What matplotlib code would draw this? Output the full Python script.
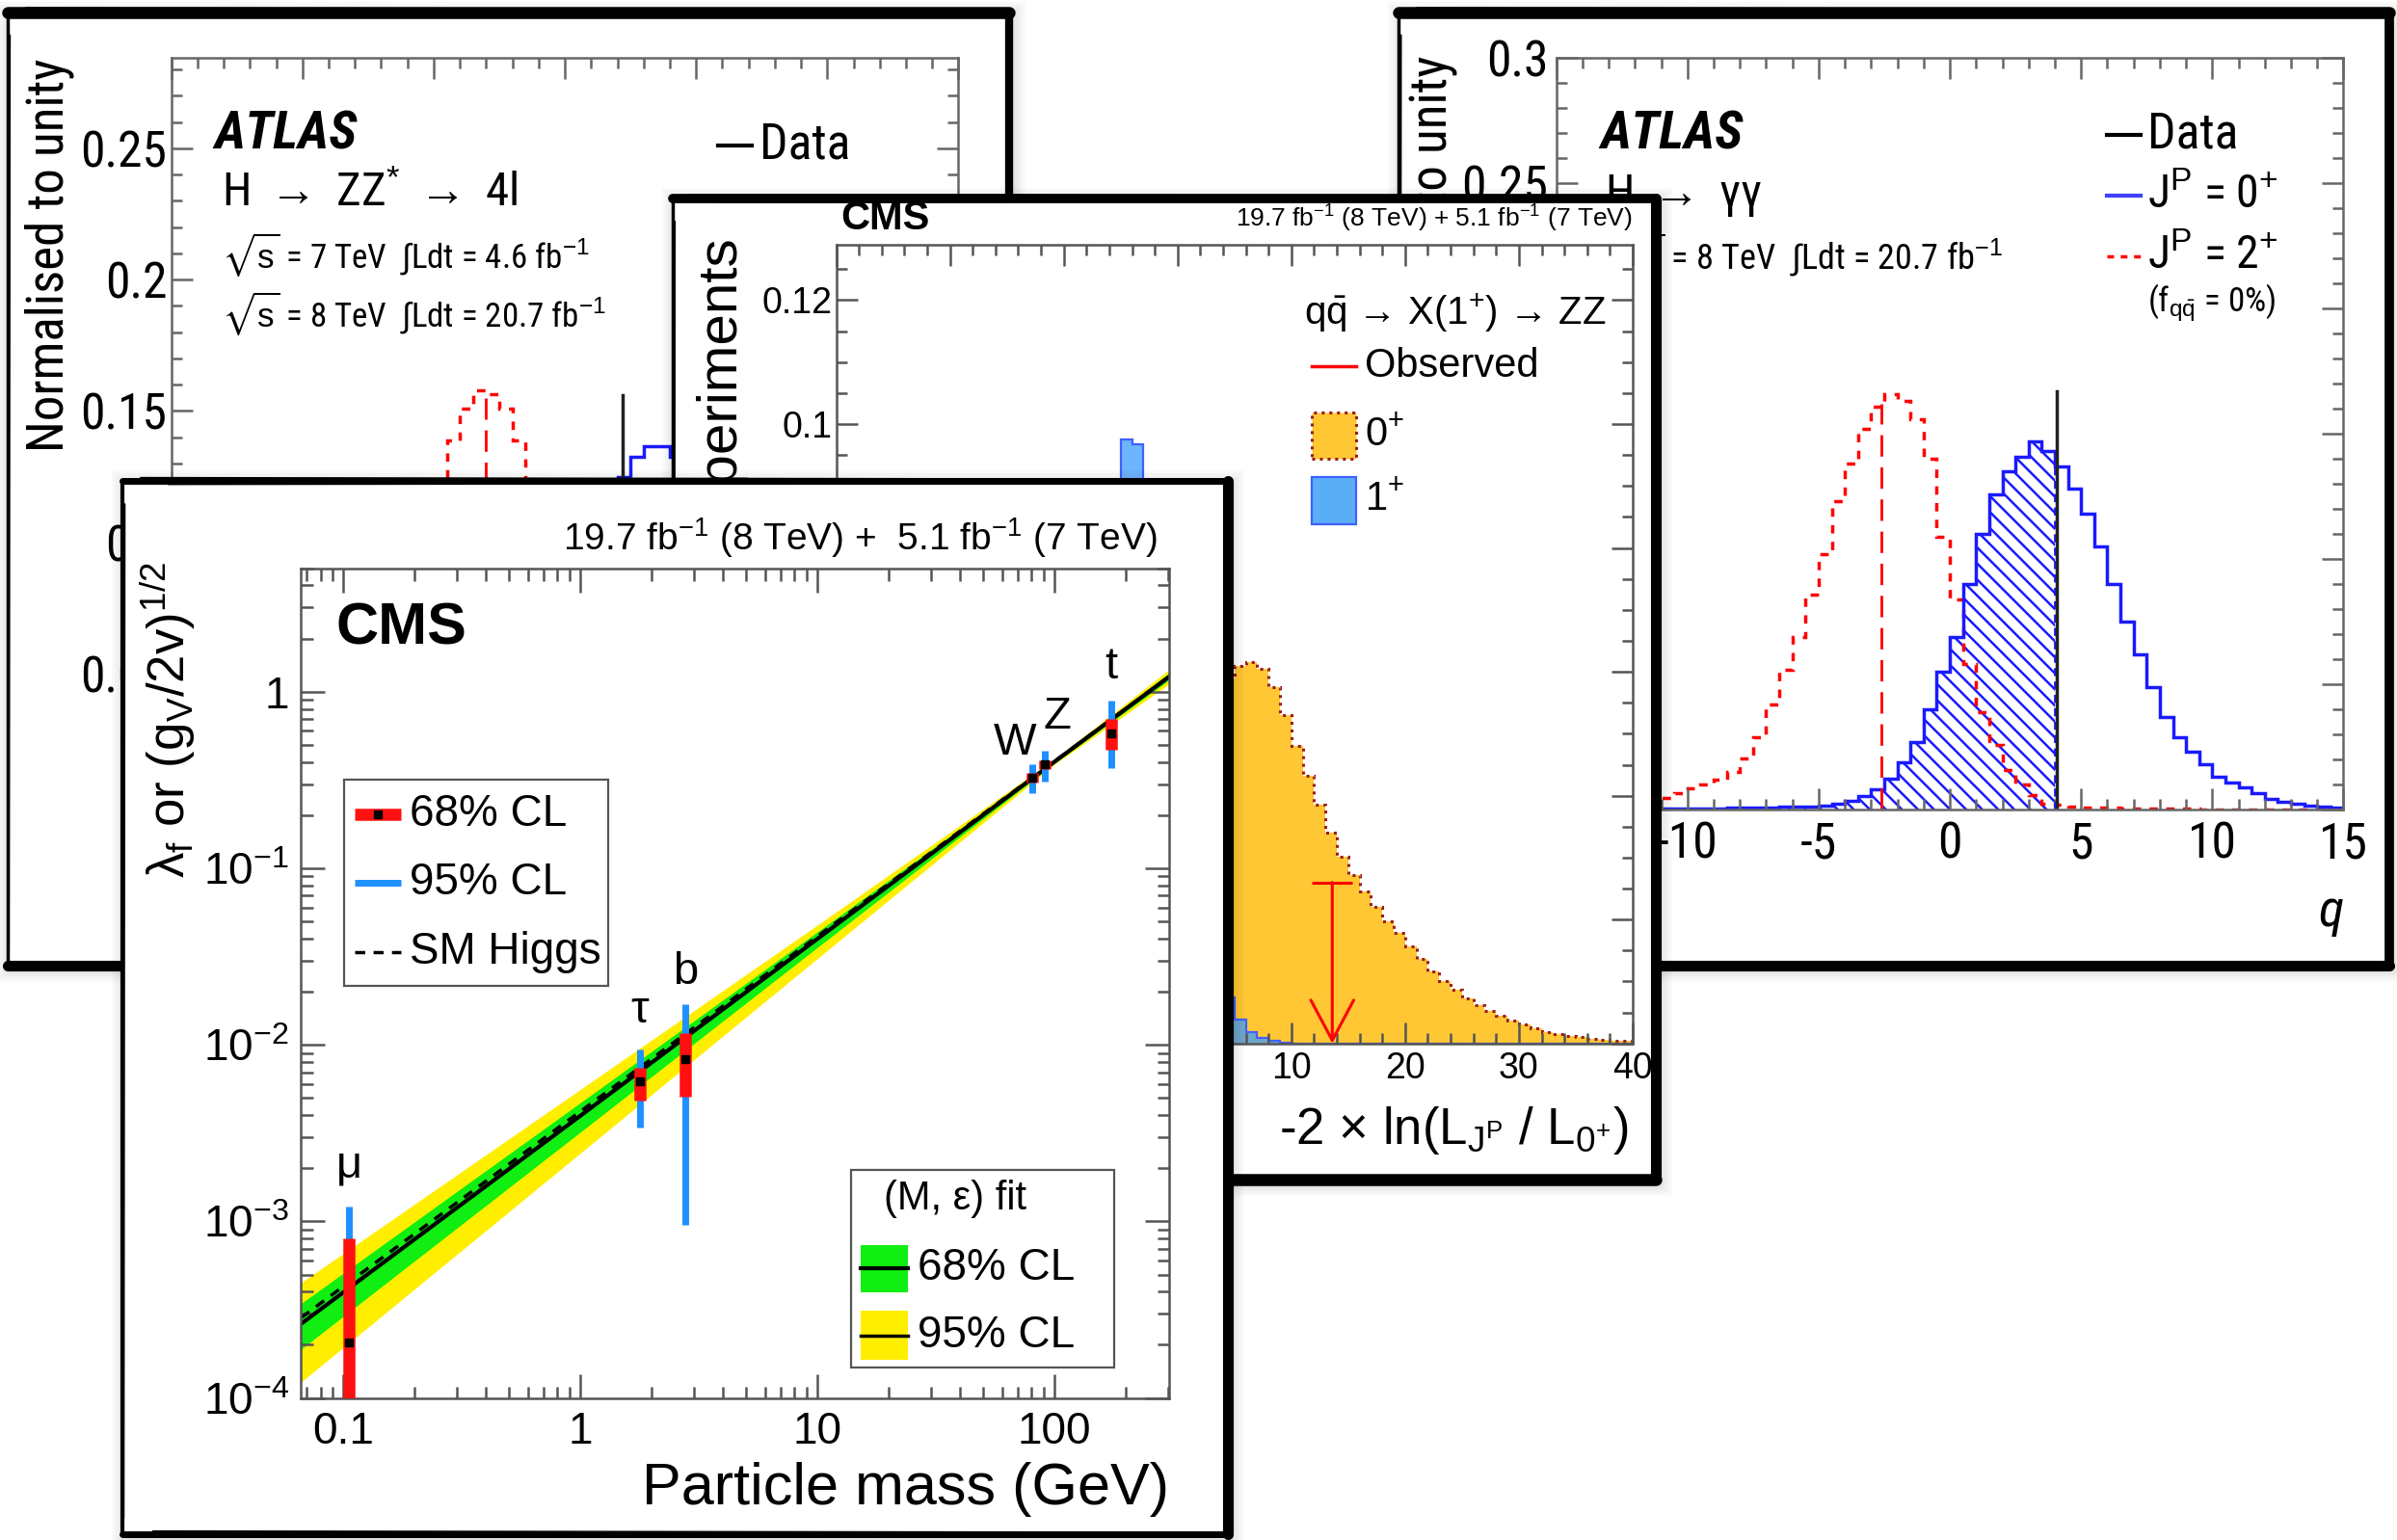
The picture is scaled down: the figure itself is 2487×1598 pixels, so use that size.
import numpy as np
import matplotlib
matplotlib.use("Agg")
import matplotlib.pyplot as plt
import matplotlib.transforms as mtransforms
from matplotlib.patches import Rectangle
from matplotlib.ticker import MultipleLocator, NullFormatter, LogLocator
from matplotlib import font_manager

# ======================= DATA =======================
# --- ATLAS H->ZZ*->4l : distribution of q (bins of width 0.5) ---
zz_q_edges = np.arange(-15, 15.01, 0.5)
zz_spin2 = [0, 0, 0, 0, 0, 0.0001, 0.0003, 0.0005, 0.0011, 0.0020,
            0.0035, 0.0061, 0.0100, 0.0159, 0.0241, 0.0351, 0.0489, 0.0656, 0.0841, 0.1036,
            0.1224, 0.1387, 0.1508, 0.1580, 0.1565, 0.1508, 0.1387, 0.1224, 0.1036, 0.0841,
            0.0656, 0.0489, 0.0351, 0.0241, 0.0159, 0.0100, 0.0061, 0.0035, 0.0020, 0.0011,
            0.0005, 0.0003, 0.0001, 0, 0, 0, 0, 0, 0, 0,
            0, 0, 0, 0, 0, 0, 0, 0, 0, 0]
zz_spin0 = [0, 0, 0, 0, 0, 0, 0, 0, 0, 0,
            0, 0, 0, 0, 0.0001, 0.0001, 0.0003, 0.0005, 0.0008, 0.0014,
            0.0024, 0.0038, 0.0060, 0.0091, 0.0134, 0.0191, 0.0266, 0.0359, 0.0469, 0.0595,
            0.0731, 0.0874, 0.1014, 0.1143, 0.1248, 0.1325, 0.1365, 0.1365, 0.1325, 0.1248,
            0.1143, 0.1014, 0.0874, 0.0731, 0.0595, 0.0469, 0.0359, 0.0266, 0.0191, 0.0134,
            0.0091, 0.0060, 0.0038, 0.0024, 0.0014, 0.0008, 0.0005, 0.0003, 0.0001, 0.0001]
zz_q_obs, zz_obs_top = 2.2, 0.156
zz_spin2_median, zz_median_top = -3.0, 0.155
q_xticks = [-15, -10, -5, 0, 5, 10, 15]
q_xticklabels = ['-15', '-10', '-5', '0', '5', '10', '15']
zz_yticks = [0, 0.05, 0.1, 0.15, 0.2, 0.25]
zz_yticklabels = ['0', '0.05', '0.1', '0.15', '0.2', '0.25']

# --- ATLAS H->gamma gamma : distribution of q (bins of width 0.5) ---
gg_q_edges = np.arange(-15, 15.01, 0.5)
gg_spin2 = [0.0002, 0.0003, 0.0005, 0.0008, 0.0012, 0.0018, 0.0025, 0.0033, 0.0046, 0.0065,
            0.0085, 0.0100, 0.0120, 0.0152, 0.0205, 0.0290, 0.0420, 0.0560, 0.0690, 0.0860,
            0.1020, 0.1230, 0.1380, 0.1520, 0.1610, 0.1660, 0.1630, 0.1560, 0.1400, 0.1090,
            0.0840, 0.0580, 0.0390, 0.0260, 0.0160, 0.0100, 0.0058, 0.0025, 0.0020, 0.0012,
            0.0010, 0.0008, 0.0007, 0.0006, 0.0005, 0.0004, 0.0004, 0.0003, 0.0003, 0.0002,
            0.0002, 0.0002, 0.0001, 0.0001, 0.0001, 0.0001, 0.0, 0.0, 0.0, 0.0]
gg_spin0 = [0.0001, 0.0001, 0.0001, 0.0002, 0.0002, 0.0002, 0.0003, 0.0003, 0.0004, 0.0004,
            0.0005, 0.0005, 0.0006, 0.0007, 0.0008, 0.0009, 0.0010, 0.0011, 0.0012, 0.0013,
            0.0016, 0.0023, 0.0035, 0.0055, 0.0080, 0.0125, 0.0190, 0.0270, 0.0400, 0.0550,
            0.0690, 0.0900, 0.1100, 0.1260, 0.1350, 0.1410, 0.1470, 0.1430, 0.1370, 0.1280,
            0.1180, 0.1050, 0.0900, 0.0750, 0.0620, 0.0490, 0.0370, 0.0290, 0.0230, 0.0180,
            0.0130, 0.0110, 0.0090, 0.0065, 0.0045, 0.0033, 0.0024, 0.0017, 0.0012, 0.0007]
gg_q_obs, gg_obs_top = 4.08, 0.167
gg_spin2_median, gg_median_top = -2.62, 0.162
gg_yticks = [0, 0.05, 0.1, 0.15, 0.2, 0.25, 0.3]
gg_yticklabels = ['0', '0.05', '0.1', '0.15', '0.2', '0.25', '0.3']

# --- CMS q qbar -> X(1+) -> ZZ : test statistic (bins of width 1) ---
cms_q_edges = np.arange(-30, 41, 1)
cms_0plus = [0, 0, 0, 0, 0, 0, 0, 0, 0, 0,
             0, 0, 0, 0, 0, 0.0001, 0.0002, 0.0003, 0.0005, 0.0008,
             0.0013, 0.0020, 0.0030, 0.0045, 0.0065, 0.0090, 0.0120, 0.0160, 0.0205, 0.0255,
             0.0315, 0.0380, 0.0450, 0.0530, 0.0590, 0.0610, 0.0615, 0.0605, 0.0575, 0.0530,
             0.0480, 0.0432, 0.0385, 0.0340, 0.0302, 0.0272, 0.0245, 0.0220, 0.0198, 0.0178,
             0.0157, 0.0137, 0.0117, 0.0100, 0.0086, 0.0073, 0.0062, 0.0052, 0.0044, 0.0037,
             0.0030, 0.0024, 0.0019, 0.0015, 0.0012, 0.0010, 0.0008, 0.0006, 0.0005, 0.0004]
cms_1plus = [0, 0, 0, 0, 0, 0, 0, 0, 0, 0,
             0, 0, 0.0001, 0.0004, 0.0009, 0.0019, 0.0039, 0.0074, 0.0131, 0.0217,
             0.0333, 0.0475, 0.0633, 0.0784, 0.0905, 0.0975, 0.0968, 0.0905, 0.0784, 0.0633,
             0.0475, 0.0333, 0.0217, 0.0131, 0.0074, 0.0039, 0.0019, 0.0009, 0.0004, 0.0001,
             0, 0, 0, 0, 0, 0, 0, 0, 0, 0,
             0, 0, 0, 0, 0, 0, 0, 0, 0, 0,
             0, 0, 0, 0, 0, 0, 0, 0, 0, 0]
cms_observed_q, cms_observed_top = 13.6, 0.026
cms_xticks = [-30, -20, -10, 0, 10, 20, 30, 40]
cms_xticklabels = ['-30', '-20', '-10', '0', '10', '20', '30', '40']
cms_yticks = [0, 0.02, 0.04, 0.06, 0.08, 0.1, 0.12]
cms_yticklabels = ['0', '0.02', '0.04', '0.06', '0.08', '0.1', '0.12']

# --- CMS couplings vs particle mass ---
particles = ['μ', 'τ', 'b', 'W', 'Z', 't']
particle_mass = [0.1057, 1.777, 2.76, 80.4, 91.19, 173.2]
coupling_best = [2.06e-4, 6.25e-3, 8.3e-3, 0.324, 0.388, 0.58]
cl68_low = [5e-5, 4.85e-3, 5.08e-3, 0.305, 0.365, 0.47]
cl68_high = [8.0e-4, 7.4e-3, 1.17e-2, 0.345, 0.41, 0.70]
cl95_low = [5e-5, 3.39e-3, 9.5e-4, 0.265, 0.31, 0.37]
cl95_high = [1.22e-3, 9.4e-3, 1.69e-2, 0.388, 0.464, 0.89]
band_mass = [0.0663, 1.0, 10.0, 100.0, 305.0]
fit_central = [2.63e-4, 3.97e-3, 3.99e-2, 0.402, 1.22]
fit68_low = [1.89e-4, 3.21e-3, 3.57e-2, 0.394, 1.17]
fit68_high = [3.43e-4, 4.71e-3, 4.37e-2, 0.409, 1.28]
fit95_low = [1.23e-4, 2.44e-3, 3.09e-2, 0.388, 1.11]
fit95_high = [4.50e-4, 5.60e-3, 4.78e-2, 0.416, 1.34]
sm_mass = [0.0663, 305.0]
sm_coupling = [2.85e-4, 1.22]
mass_xticks = [0.1, 1, 10, 100]
mass_xticklabels = ['0.1', '1', '10', '100']
coupling_yticks = [1e-4, 1e-3, 1e-2, 1e-1, 1]
coupling_yticklabels = [r'$10^{-4}$', r'$10^{-3}$', r'$10^{-2}$', r'$10^{-1}$', '1']

# ======================= FONTS =======================
fam_stretch = {}
for f in font_manager.fontManager.ttflist:
    fam_stretch.setdefault(f.name, set()).add(str(f.stretch))
SANS = 'Liberation Sans' if 'Liberation Sans' in fam_stretch else 'DejaVu Sans'
if 'Liberation Sans Narrow' in fam_stretch:
    NARROW, NSTRETCH, NF = 'Liberation Sans Narrow', 'condensed', 1.0
elif 'Noto Sans Condensed' in fam_stretch:
    NARROW, NSTRETCH, NF = 'Noto Sans Condensed', 'condensed', 0.91
elif 'condensed' in fam_stretch.get('Noto Sans', set()):
    NARROW, NSTRETCH, NF = 'Noto Sans', 'condensed', 0.91
elif 'Roboto Condensed' in fam_stretch:
    NARROW, NSTRETCH, NF = 'Roboto Condensed', 'condensed', 0.93
elif 'condensed' in fam_stretch.get('Roboto', set()):
    NARROW, NSTRETCH, NF = 'Roboto', 'condensed', 0.93
elif 'Open Sans Condensed' in fam_stretch:
    NARROW, NSTRETCH, NF = 'Open Sans Condensed', 'condensed', 0.93
elif 'condensed' in fam_stretch.get('Open Sans', set()):
    NARROW, NSTRETCH, NF = 'Open Sans', 'condensed', 0.93
else:
    NARROW, NSTRETCH, NF = SANS, 'normal', 0.84

plt.rcParams['font.family'] = [SANS, 'DejaVu Sans']
plt.rcParams['mathtext.fontset'] = 'custom'
plt.rcParams['mathtext.rm'] = SANS
plt.rcParams['mathtext.it'] = SANS + ':italic'
plt.rcParams['mathtext.bf'] = SANS + ':bold'
plt.rcParams['mathtext.sf'] = SANS
plt.rcParams['mathtext.fallback'] = 'stixsans'
plt.rcParams['hatch.linewidth'] = 1.8

NK = dict(fontfamily=[NARROW, SANS, 'DejaVu Sans'], fontstretch=NSTRETCH)
SK = dict(fontfamily=[SANS, 'DejaVu Sans'])

W, H = 1568.0, 1008.0
FW, FH = 2487, 1598
fig = plt.figure(figsize=(FW / 100, FH / 100), dpi=100)
fig.patch.set_facecolor('white')
T = mtransforms.Affine2D().scale(1 / W, -1 / H).translate(0, 1) + fig.transFigure


def frect(x0, y0, x1, y1):
    return [x0 / W, 1 - y1 / H, (x1 - x0) / W, (y1 - y0) / H]


def txt(ax, x, y, s, size, ha='left', va='center', **kw):
    return ax.text(x, y, s, transform=T, fontsize=size, ha=ha, va=va,
                   clip_on=False, **kw)


def seg(ax, xs, ys, **kw):
    return ax.plot(xs, ys, transform=T, clip_on=False, **kw)


def panel_bg(x0, y0, x1, y1, z):
    bg = fig.add_axes(frect(x0, y0, x1, y1), zorder=z)
    bg.set_xticks([]); bg.set_yticks([])
    for s in bg.spines.values():
        s.set_visible(False)
    bg.set_facecolor('none')
    for d in [9, 7, 5, 3.5, 2]:
        bg.add_patch(Rectangle((x0 - d + 2, y1 + d + 2), (x1 - x0) + 2 * d, -(y1 - y0) - 2 * d,
                               transform=T, facecolor='black', alpha=0.025, lw=0,
                               clip_on=False, zorder=0))
    bg.add_patch(Rectangle((x0, y1), x1 - x0, -(y1 - y0), transform=T, facecolor='white',
                           lw=0, clip_on=False, zorder=1))
    return bg


def sketch_border(ax, x0, y0, x1, y1, t, r, b, l):
    kw = dict(color='black', solid_capstyle='round', zorder=30)
    if t:
        seg(ax, [x0, x1], [y0, y0], lw=t, **kw)
        seg(ax, [x0 + 12, x1 - 4], [y0 - 2.2, y0 - 1.2], lw=t * 0.3, **kw)
        seg(ax, [x0 + 30, x1 + 1], [y0 + 2.0, y0 + 1.2], lw=t * 0.25, **kw)
    if r:
        seg(ax, [x1, x1], [y0, y1], lw=r, **kw)
        seg(ax, [x1 + 1.8, x1 + 1.0], [y0 + 10, y1 - 6], lw=r * 0.3, **kw)
        seg(ax, [x1 - 1.6, x1 - 1.0], [y0 + 25, y1 + 1], lw=r * 0.25, **kw)
    if b:
        seg(ax, [x0, x1], [y1, y1], lw=b, **kw)
        seg(ax, [x0 + 8, x1 - 3], [y1 + 2.0, y1 + 1.0], lw=b * 0.3, **kw)
        seg(ax, [x0 + 20, x1 + 1], [y1 - 1.8, y1 - 1.0], lw=b * 0.25, **kw)
    if l:
        seg(ax, [x0, x0], [y0, y1], lw=l, **kw)
        seg(ax, [x0 + 1.5, x0 + 0.8], [y0 + 15, y1 - 10], lw=l * 0.5, **kw)


def root_frame(ax, maj, mnr, color='#444444', lw=1.8):
    ax.tick_params(which='both', direction='in', top=True, right=True,
                   color=color, width=lw)
    ax.tick_params(which='major', length=maj)
    ax.tick_params(which='minor', length=mnr)
    for s in ax.spines.values():
        s.set_color(color)
        s.set_linewidth(lw)
    ax.set_facecolor('none')


RECT_A = (5, 8, 660, 632)
RECT_B = (915, 8, 1563, 632)
RECT_C = (440, 130, 1083, 772)
RECT_D = (80, 315, 803, 1004)

# ======================= PANEL A : ATLAS ZZ =======================
bgA = panel_bg(*RECT_A, 1)
axA = fig.add_axes(frect(112, 38, 627, 527), zorder=2)
sketch_border(axA, *RECT_A, 9, 6, 8, 2.5)
axA.stairs(zz_spin2, zz_q_edges, color='red', lw=2.5, linestyle=(0, (2.5, 2.5)))
axA.stairs(zz_spin0, zz_q_edges, color='#1a1aff', lw=2.5)
axA.plot([zz_spin2_median, zz_spin2_median], [0, zz_median_top], color='red',
         lw=2, linestyle=(0, (8, 4)))
axA.plot([zz_q_obs, zz_q_obs], [0, zz_obs_top], color='#222222', lw=2.5)
axA.set_xlim(-15, 15)
axA.set_ylim(0, 0.2843)
root_frame(axA, 16, 8, color='#666666')
axA.set_xticks(q_xticks, q_xticklabels, fontsize=38 * NF, **NK)
axA.set_yticks(zz_yticks, zz_yticklabels, fontsize=40 * NF, **NK)
axA.xaxis.set_minor_locator(MultipleLocator(1))
axA.yaxis.set_minor_locator(MultipleLocator(0.01))
axA.tick_params(axis='y', pad=3)
axA.tick_params(axis='x', pad=8)
txt(axA, 32, 38, 'Normalised to unity', 41 * NF, ha='center', va='top', rotation=90, **NK)
txt(axA, 140, 88, 'ATLAS', 43 * NF, fontweight='bold', fontstyle='italic', **NK)
txt(axA, 145, 127, r'H ${\rightarrow}$ ZZ$^{*}$ ${\rightarrow}$ 4l', 38 * NF, **NK)
txt(axA, 145, 167, r'$\sqrt{\mathrm{s}}$ = 7 TeV  $\int$Ldt = 4.6 fb$^{-1}$', 27 * NF, **NK)
txt(axA, 145, 205, r'$\sqrt{\mathrm{s}}$ = 8 TeV  $\int$Ldt = 20.7 fb$^{-1}$', 27 * NF, **NK)
seg(axA, [470, 492], [95, 95], color='black', lw=3)
txt(axA, 497, 95, 'Data', 40 * NF, **NK)
txt(axA, 627, 600, 'q', 40 * NF, ha='right', fontstyle='italic', **NK)

# ======================= PANEL B : ATLAS gamma gamma =======================
bgB = panel_bg(*RECT_B, 3)
axB = fig.add_axes(frect(1018, 38, 1533, 530), zorder=4)
sketch_border(axB, *RECT_B, 9, 7, 8, 2.5)
n_hatch = int(np.searchsorted(gg_q_edges, gg_q_obs, side='right')) - 1
axB.stairs(gg_spin0[:n_hatch], gg_q_edges[:n_hatch + 1], fill=True, facecolor='none',
           edgecolor='#1a1aff', hatch='\\\\', lw=0)
axB.plot([gg_q_edges[n_hatch], gg_q_edges[n_hatch]], [0, gg_spin0[n_hatch - 1]],
         color='#1a1aff', lw=2, linestyle=(0, (3, 2)))
axB.stairs(gg_spin2, gg_q_edges, color='red', lw=2.5, linestyle=(0, (2.5, 2.5)))
axB.stairs(gg_spin0, gg_q_edges, color='#1a1aff', lw=2.5)
axB.plot([gg_spin2_median, gg_spin2_median], [0, gg_median_top], color='red',
         lw=2, linestyle=(0, (8, 4)))
axB.plot([gg_q_obs, gg_q_obs], [0, gg_obs_top], color='#222222', lw=2.5)
axB.set_xlim(-15, 15)
axB.set_ylim(0, 0.3)
root_frame(axB, 16, 8, color='#666666')
axB.set_xticks(q_xticks, q_xticklabels, fontsize=40 * NF, **NK)
axB.set_yticks(gg_yticks, gg_yticklabels, fontsize=40 * NF, **NK)
axB.xaxis.set_minor_locator(MultipleLocator(1))
axB.yaxis.set_minor_locator(MultipleLocator(0.01))
axB.tick_params(axis='y', pad=6)
axB.tick_params(axis='x', pad=8)
txt(axB, 937, 36, 'Normalised to unity', 41 * NF, ha='center', va='top', rotation=90, **NK)
txt(axB, 1047, 88, 'ATLAS', 43 * NF, fontweight='bold', fontstyle='italic', **NK)
txt(axB, 1050, 128, r'H ${\rightarrow}$ γγ', 38 * NF, **NK)
txt(axB, 1050, 167, r'$\sqrt{\mathrm{s}}$ = 8 TeV  $\int$Ldt = 20.7 fb$^{-1}$', 28 * NF, **NK)
seg(axB, [1378, 1400], [88, 88], color='black', lw=3)
txt(axB, 1405, 88, 'Data', 40 * NF, **NK)
seg(axB, [1378, 1400], [128, 128], color='#4040ff', lw=3)
txt(axB, 1405, 128, r'J$^{\mathrm{P}}$ = 0$^{+}$', 37 * NF, **NK)
seg(axB, [1378, 1400], [168, 168], color='red', lw=2.5, linestyle=(0, (2, 2)))
txt(axB, 1405, 168, r'J$^{\mathrm{P}}$ = 2$^{+}$', 37 * NF, **NK)
txt(axB, 1405, 198, r'(f$_{\mathrm{q\bar{q}}}$ = 0%)', 27 * NF, **NK)
txt(axB, 1533, 597, 'q', 42 * NF, ha='right', fontstyle='italic', **NK)

# ======================= PANEL C : CMS X(1+) -> ZZ =======================
bgC = panel_bg(*RECT_C, 5)
axC = fig.add_axes(frect(547, 160, 1068, 683), zorder=6)
sketch_border(axC, *RECT_C, 7, 8, 9, 2.5)
axC.stairs(cms_0plus, cms_q_edges, fill=True, facecolor='#ffc733', lw=0)
axC.stairs(cms_0plus, cms_q_edges, color='#9b1c1c', lw=2.2, linestyle=(0, (1, 1.6)))
axC.stairs(cms_1plus, cms_q_edges, fill=True, facecolor=(0.24, 0.61, 1.0, 0.75), lw=0)
axC.stairs(cms_1plus, cms_q_edges, color='#4060ff', lw=1.6)
axC.annotate('', xy=(cms_observed_q, 0), xytext=(cms_observed_q, cms_observed_top),
             arrowprops=dict(arrowstyle='->,head_length=0.75,head_width=0.4',
                             color='red', lw=2.2, mutation_scale=40,
                             shrinkA=0, shrinkB=0))
axC.plot([cms_observed_q], [cms_observed_top], marker='_', ms=30, mew=2.2, color='red')
axC.set_xlim(-30, 40)
axC.set_ylim(0, 0.129)
root_frame(axC, 16, 8, color='#555555')
axC.set_xticks(cms_xticks, cms_xticklabels, fontsize=27, **SK)
axC.set_yticks(cms_yticks, cms_yticklabels, fontsize=27, **SK)
axC.xaxis.set_minor_locator(MultipleLocator(2))
axC.yaxis.set_minor_locator(MultipleLocator(0.005))
axC.tick_params(axis='y', pad=3)
axC.tick_params(axis='x', pad=6)
txt(axC, 470, 153, 'Pseudo-experiments', 42, ha='center', va='top', rotation=90, **SK)
txt(axC, 550, 143, 'CMS', 30, fontweight='bold', **SK)
txt(axC, 1068, 143, r'19.7 fb$^{-1}$ (8 TeV) + 5.1 fb$^{-1}$ (7 TeV)', 19, ha='right', **SK)
txt(axC, 853, 205, r'q$\mathrm{\bar{q}}$ → X(1$^{+}$) → ZZ', 29, **SK)
seg(axC, [858, 887], [240, 240], color='red', lw=2.5)
txt(axC, 893, 240, 'Observed', 30, **SK)
axC.add_patch(Rectangle((858, 300), 29, -30, transform=T, facecolor='#ffc733',
                        edgecolor='#9b1c1c', lw=2.2, linestyle=(0, (1, 1.6)), clip_on=False))
txt(axC, 893, 285, r'0$^{+}$', 30, **SK)
axC.add_patch(Rectangle((858, 343), 29, -31, transform=T, facecolor='#5aaef5',
                        edgecolor='#4060ff', lw=1.6, clip_on=False))
txt(axC, 893, 327, r'1$^{+}$', 30, **SK)
txt(axC, 1065, 740, r'-2 × ln(L$_{\mathrm{J^{P}}}$ / L$_{\mathrm{0^{+}}}$)', 38, ha='right', **SK)

# ======================= PANEL D : CMS couplings vs mass =======================
bgD = panel_bg(*RECT_D, 7)
axD = fig.add_axes(frect(197, 372, 765, 915), zorder=8)
sketch_border(axD, *RECT_D, 5, 8, 5, 3)
axD.set_xscale('log')
axD.set_yscale('log')
axD.fill_between(band_mass, fit95_low, fit95_high, color='#ffee00', lw=0, zorder=1)
axD.fill_between(band_mass, fit68_low, fit68_high, color='#11ee11', lw=0, zorder=1.1)
axD.plot(band_mass, fit_central, color='black', lw=3, zorder=2)
axD.plot(sm_mass, sm_coupling, color='black', lw=2.5, linestyle=(0, (3, 2.5)), zorder=2.1)
for m, c, l68, h68, l95, h95 in zip(particle_mass, coupling_best, cl68_low, cl68_high,
                                   cl95_low, cl95_high):
    axD.plot([m, m], [l95, h95], color='#1e90ff', lw=5, solid_capstyle='butt', zorder=3)
    axD.plot([m, m], [l68, h68], color='#ff1010', lw=9, solid_capstyle='butt', zorder=3.1)
    axD.plot([m], [c], marker='s', ms=6, color='black', zorder=3.2)
label_offsets = [(0, 30), (0, 29), (0, 24), (-13, 16), (9, 25), (0, 25)]
for name, m, h95, off in zip(particles, particle_mass, cl95_high, label_offsets):
    axD.annotate(name, xy=(m, h95), xytext=off, textcoords='offset points',
                 ha='center', va='center', fontsize=34, zorder=4, **SK)
axD.set_xlim(0.0663, 305)
axD.set_ylim(1e-4, 5)
root_frame(axD, 18, 9, color='#555555')
axD.set_xticks(mass_xticks, mass_xticklabels, fontsize=33, **SK)
axD.set_yticks(coupling_yticks, coupling_yticklabels, fontsize=33, **SK)
axD.xaxis.set_minor_locator(LogLocator(base=10, subs=np.arange(2, 10)))
axD.yaxis.set_minor_locator(LogLocator(base=10, subs=np.arange(2, 10)))
axD.xaxis.set_minor_formatter(NullFormatter())
axD.yaxis.set_minor_formatter(NullFormatter())
axD.tick_params(axis='y', pad=9)
axD.tick_params(axis='x', pad=10)
txt(axD, 110, 368, r'$\mathrm{\lambda_{f}}$ or (g$_{\mathrm{V}}$/2v)$^{1/2}$', 38,
    ha='center', va='top', rotation=90, **SK)
txt(axD, 765, 975, 'Particle mass (GeV)', 44, ha='right', **SK)
txt(axD, 757, 352, r'19.7 fb$^{-1}$ (8 TeV) +  5.1 fb$^{-1}$ (7 TeV)', 28, ha='right', **SK)
txt(axD, 220, 412, 'CMS', 44, fontweight='bold', **SK)
# legend 1
axD.add_patch(Rectangle((225, 645), 173, -135, transform=T, facecolor='white',
                        edgecolor='#555555', lw=1.6, clip_on=False, zorder=5))
seg(axD, [232, 262], [533, 533], color='#ff1010', lw=9, solid_capstyle='butt', zorder=6)
axD.plot([247], [533], transform=T, marker='s', ms=6, color='black', clip_on=False, zorder=7)
txt(axD, 268, 533, '68% CL', 33, zorder=6, **SK)
seg(axD, [232, 262], [578, 578], color='#1e90ff', lw=5, solid_capstyle='butt', zorder=6)
txt(axD, 268, 578, '95% CL', 33, zorder=6, **SK)
seg(axD, [232, 262], [623, 623], color='black', lw=2.5, linestyle=(0, (3, 2.5)), zorder=6)
txt(axD, 268, 623, 'SM Higgs', 33, zorder=6, **SK)
# legend 2
axD.add_patch(Rectangle((557, 895), 172, -129, transform=T, facecolor='white',
                        edgecolor='#555555', lw=1.6, clip_on=False, zorder=5))
txt(axD, 578, 785, '(M, ε) fit', 30, zorder=6, **SK)
axD.add_patch(Rectangle((563, 846), 31, -31, transform=T, facecolor='#11ee11',
                        lw=0, clip_on=False, zorder=6))
seg(axD, [563, 594], [830, 830], color='black', lw=3, zorder=7)
txt(axD, 600, 830, '68% CL', 33, zorder=6, **SK)
axD.add_patch(Rectangle((563, 890), 31, -32, transform=T, facecolor='#ffee00',
                        lw=0, clip_on=False, zorder=6))
seg(axD, [563, 594], [874, 874], color='black', lw=2.5, zorder=7)
txt(axD, 600, 874, '95% CL', 33, zorder=6, **SK)

# ---- hide texts of rear panels that are completely covered by panels in front ----
fig.canvas.draw()
renderer = fig.canvas.get_renderer()
covers = {axA: [RECT_C, RECT_D], axB: [RECT_C, RECT_D], axC: [RECT_D]}
for ax, rects in covers.items():
    for t in list(ax.texts) + ax.get_xticklabels() + ax.get_yticklabels():
        if not t.get_visible() or not t.get_text():
            continue
        bb = t.get_window_extent(renderer)
        x0, x1 = bb.x0 / FW * W, bb.x1 / FW * W
        y0, y1 = (FH - bb.y1) / FH * H, (FH - bb.y0) / FH * H
        for (a, b, c, d) in rects:
            if x0 >= a and x1 <= c and y0 >= b and y1 <= d:
                t.set_visible(False)

fig.savefig('out.png', dpi=100, facecolor='white')
